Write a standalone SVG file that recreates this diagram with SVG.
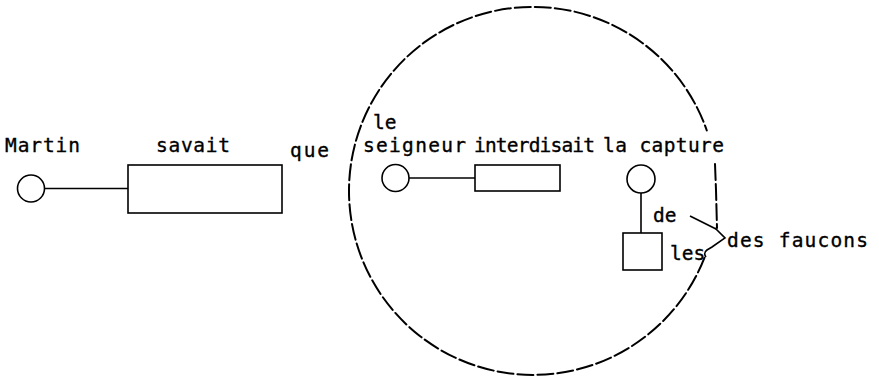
<svg xmlns="http://www.w3.org/2000/svg" width="879" height="376" viewBox="0 0 879 376">
<style>
  .t { font-family: "DejaVu Sans Mono", "Liberation Mono", monospace; font-size: 19.5px; fill: #000; stroke: #000; stroke-width: 0.35; }
  .n { fill: #fff; stroke: #000; stroke-width: 1.6; }
  .c { fill: none; stroke: #000; stroke-width: 1.6; }
  .d { fill: none; stroke: #000; stroke-width: 2; stroke-dasharray: 16 4; stroke-linecap: round; }
</style>
<rect width="879" height="376" fill="#fff"/>

<g id="clause">
  <path class="d" d="M 704.4 257.8 A 184 184 0 1 1 706.8 130.5"/>
  <path class="d" d="M 715 164 L 716 190 L 717 228" stroke-dasharray="12 3"/>
  <path class="c" d="M 715 228 L 725 238 L 712 247 L 707 250 Q 703 253 706 257" stroke-width="1.8"/>
</g>

<g id="connectors">
  <line class="c" x1="45" y1="188.5" x2="128" y2="188.5"/>
  <line class="c" x1="409" y1="178" x2="475" y2="178"/>
  <line class="c" x1="641" y1="193" x2="641" y2="233"/>
  <line class="c" x1="690" y1="216" x2="716" y2="229" stroke-width="1.8"/>
</g>

<g id="martin">
  <circle class="n" cx="31" cy="188.5" r="13.5"/>
  <text class="t" x="5" y="152" textLength="75" lengthAdjust="spacing">Martin</text>
</g>

<g id="savait">
  <rect class="n" x="128" y="165" width="154" height="48"/>
  <text class="t" x="156" y="152" textLength="74" lengthAdjust="spacing">savait</text>
</g>

<g id="que">
  <text class="t" x="290" y="157" textLength="39" lengthAdjust="spacing">que</text>
</g>

<g id="seigneur">
  <circle class="n" cx="395.5" cy="178" r="13.5"/>
  <text class="t" x="373" y="129">le</text>
  <text class="t" x="363" y="152" textLength="103" lengthAdjust="spacing">seigneur</text>
</g>

<g id="interdisait">
  <rect class="n" x="475" y="165" width="85" height="26"/>
  <text class="t" x="474" y="152" textLength="121" lengthAdjust="spacing">interdisait</text>
</g>

<g id="capture">
  <circle class="n" cx="641" cy="179" r="14"/>
  <text class="t" x="603" y="152" textLength="121" lengthAdjust="spacing">la capture</text>
</g>

<g id="faucons">
  <rect class="n" x="623" y="233" width="39" height="37"/>
  <text class="t" x="653" y="222">de</text>
  <text class="t" x="670" y="260">les</text>
  <text class="t" x="727" y="247" textLength="141" lengthAdjust="spacing">des faucons</text>
</g>
</svg>
